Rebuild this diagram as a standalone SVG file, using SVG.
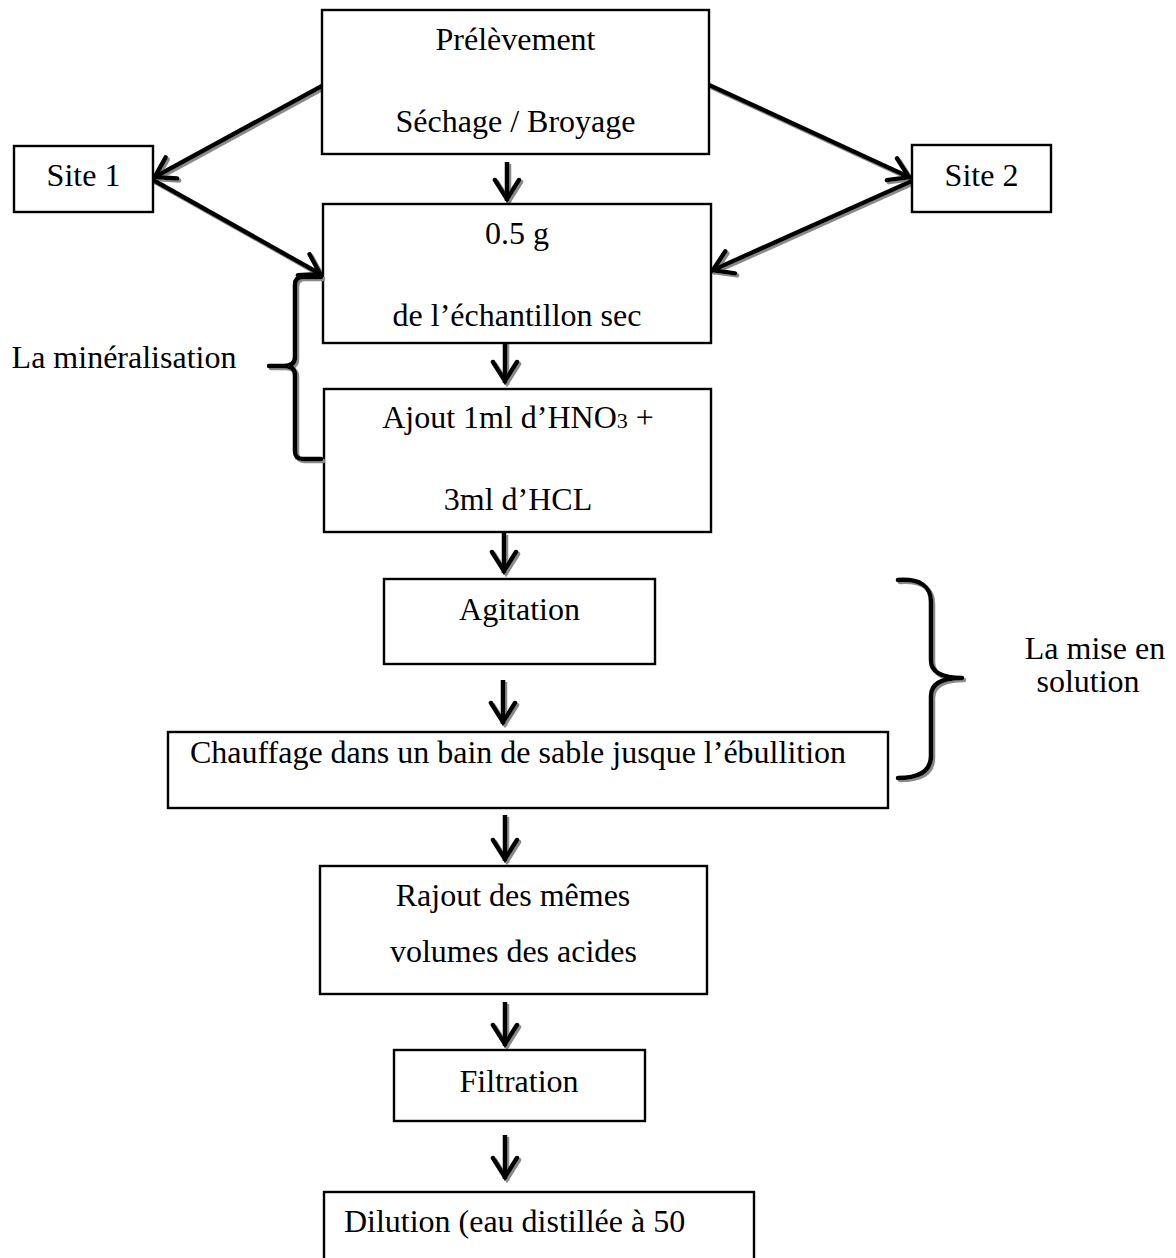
<svg xmlns="http://www.w3.org/2000/svg" width="1176" height="1258" viewBox="0 0 1176 1258">
<style>
.box{fill:#fff;stroke:#000;stroke-width:2.4}
.t{font-family:"Liberation Serif","Times New Roman",serif;font-size:32px;fill:#000;text-anchor:middle}
.conn{fill:none;stroke:#000;stroke-width:4.5}
.brace{fill:none;stroke:#000;stroke-width:4.5;stroke-linecap:round;stroke-linejoin:round}
</style>
<defs>
<marker id="ah" markerUnits="userSpaceOnUse" viewBox="-26 -15 30 30" markerWidth="30" markerHeight="30" refX="0" refY="0" orient="auto">
<path d="M-21,-12 L-2,0 L-21,12" fill="none" stroke="#000" stroke-width="4.5" stroke-linecap="round" stroke-linejoin="miter"/>
</marker>
<filter id="sh" x="-10%" y="-10%" width="120%" height="120%">
<feOffset in="SourceAlpha" dx="2" dy="2" result="o"/>
<feGaussianBlur in="o" stdDeviation="0.6" result="b"/>
<feFlood flood-color="#8a8a8a"/>
<feComposite in2="b" operator="in" result="s"/>
<feMerge><feMergeNode in="s"/><feMergeNode in="SourceGraphic"/></feMerge>
</filter>
</defs>
<rect width="1176" height="1258" fill="#fff"/>

<g id="connectors" filter="url(#sh)">
<path class="conn" d="M322,86 L153,178" marker-end="url(#ah)"/>
<path class="conn" d="M709,85 L911,178" marker-end="url(#ah)"/>
<path class="conn" d="M153,180 L322,275" marker-end="url(#ah)"/>
<path class="conn" d="M912,181 L711,271" marker-end="url(#ah)"/>
<path class="conn" d="M507,162 L507,201" marker-end="url(#ah)"/>
<path class="conn" d="M505,338 L505,383" marker-end="url(#ah)"/>
<path class="conn" d="M504,533 L504,573" marker-end="url(#ah)"/>
<path class="conn" d="M503,680 L503,724" marker-end="url(#ah)"/>
<path class="conn" d="M505,815 L505,861" marker-end="url(#ah)"/>
<path class="conn" d="M505,1002 L505,1046" marker-end="url(#ah)"/>
<path class="conn" d="M505,1135 L505,1179" marker-end="url(#ah)"/>
</g>

<g id="node-prelevement">
<rect class="box" x="322" y="10" width="387" height="144"/>
<text class="t" x="515.5" y="50">Prélèvement</text>
<text class="t" x="515.5" y="132">Séchage / Broyage</text>
</g>
<g id="node-site1">
<rect class="box" x="14" y="146" width="139" height="66"/>
<text class="t" x="83.5" y="186">Site 1</text>
</g>
<g id="node-site2">
<rect class="box" x="912" y="145" width="139" height="67"/>
<text class="t" x="981.5" y="186">Site 2</text>
</g>
<g id="node-echantillon">
<rect class="box" x="323" y="204" width="388" height="139"/>
<text class="t" x="517" y="244">0.5 g</text>
<text class="t" x="517" y="326">de l’échantillon sec</text>
</g>
<g id="node-ajout">
<rect class="box" x="324" y="389" width="387" height="143"/>
<text class="t" x="518" y="428">Ajout 1ml d’HNO<tspan font-size="22px">3</tspan> +</text>
<text class="t" x="518" y="510">3ml d’HCL</text>
</g>
<g id="node-agitation">
<rect class="box" x="384" y="579" width="271" height="85"/>
<text class="t" x="519.5" y="620">Agitation</text>
</g>
<g id="node-chauffage">
<rect class="box" x="168" y="732" width="720" height="76"/>
<text class="t" x="518" y="763">Chauffage dans un bain de sable jusque l’ébullition</text>
</g>
<g id="node-rajout">
<rect class="box" x="320" y="866" width="387" height="128"/>
<text class="t" x="513" y="906">Rajout des mêmes</text>
<text class="t" x="513.5" y="962">volumes des acides</text>
</g>
<g id="node-filtration">
<rect class="box" x="394" y="1050" width="251" height="71"/>
<text class="t" x="519" y="1092">Filtration</text>
</g>
<g id="node-dilution">
<rect class="box" x="324" y="1192" width="430" height="90"/>
<text class="t" x="514.5" y="1232">Dilution (eau distillée à 50</text>
</g>

<g id="brace-mineralisation">
<path class="brace" filter="url(#sh)" d="M321,277 L303,277 Q295,277 295,285 L295,357 Q295,366 284,366 L269,366 M284,366 Q295,366 295,375 L295,451 Q295,459 303,459 L321,459"/>
<text class="t" x="124" y="368">La minéralisation</text>
</g>
<g id="brace-mise-en-solution">
<path class="brace" filter="url(#sh)" d="M898,580 Q931,578 931,602 L931,660 Q931,678 962,678 M962,678 Q931,678 931,696 L931,756 Q931,778 898,778"/>
<text class="t" x="1095" y="659">La mise en</text>
<text class="t" x="1088" y="692">solution</text>
</g>
</svg>
